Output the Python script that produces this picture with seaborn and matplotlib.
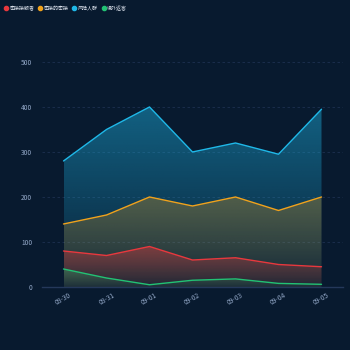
import numpy as np
import pandas as pd
import matplotlib
matplotlib.use("Agg")
import matplotlib.pyplot as plt
import matplotlib.colors as mcolors
from matplotlib.lines import Line2D
import seaborn as sns

# data
dates = ["08-30", "08-31", "09-01", "09-02", "09-03", "09-04", "09-05"]
names = ["密接接触者", "密接的密接", "风险人群", "境外返客"]
close_contact = [80, 70, 90, 60, 65, 50, 45]
secondary = [140, 160, 200, 180, 200, 170, 200]
risk_group = [280, 350, 400, 300, 320, 295, 395]
overseas = [40, 20, 5, 15, 18, 8, 6]
colors = ["#e8383d", "#f0a21c", "#1fb8e8", "#22c274"]

bg = "#081a2f"
sns.set_theme(style="dark")
plt.rcParams["font.family"] = ["Noto Sans CJK SC", "DejaVu Sans"]

series = [close_contact, secondary, risk_group, overseas]
df = pd.DataFrame({"date": dates * 4,
                   "value": sum(series, []),
                   "name": np.repeat(names, len(dates))})
df["x"] = df["date"].map({d: i for i, d in enumerate(dates)})

fig = plt.figure(figsize=(3.5, 3.5), dpi=100, facecolor=bg)
ax = fig.add_axes([0.12, 0.18, 0.86, 0.643], facecolor=bg)

x = np.arange(len(dates))
# draw order: big areas first
order = [2, 1, 0, 3]
top_alpha = {0: 0.42, 1: 0.3, 2: 0.45, 3: 0.35}
for z, k in enumerate(order):
    vals = np.array(series[k], dtype=float)
    poly = ax.fill_between(x, 0, vals, color="none", zorder=1 + z)
    rgb = mcolors.to_rgb(colors[k])
    grad = np.zeros((100, 1, 4))
    grad[..., :3] = rgb
    grad[..., 3] = np.linspace(0.05, top_alpha[k], 100)[:, None]
    im = ax.imshow(grad, aspect="auto", origin="lower",
                   extent=[x[0], x[-1], 0, vals.max()], zorder=1 + z)
    im.set_clip_path(poly.get_paths()[0], transform=ax.transData)
    sns.lineplot(data=df[df["name"] == names[k]], x="x", y="value", ax=ax,
                 color=colors[k], lw=1, zorder=10 + z, legend=False)

ax.set_xlim(-0.5, len(dates) - 0.5)
ax.set_ylim(0, 500)
ax.set_xticks(x)
ax.set_xticklabels(dates, rotation=30, fontsize=4.8, color="#93a8c8")
ax.set_yticks(range(0, 501, 100))
ax.tick_params(axis="y", labelsize=4.8, colors="#93a8c8", length=0, pad=7)
ax.tick_params(axis="x", length=0, pad=3)
ax.set_xlabel("")
ax.set_ylabel("")
ax.grid(axis="y", color="#1d3050", ls=(0, (3, 3)), lw=0.6)
ax.grid(axis="x", visible=False)
for s in ["top", "right", "left"]:
    ax.spines[s].set_visible(False)
ax.spines["bottom"].set_color("#24385a")
ax.spines["bottom"].set_linewidth(1)

handles = [Line2D([], [], ls="none", marker="o", ms=3, color=c) for c in colors]
fig.legend(handles, names, loc="upper left", bbox_to_anchor=(-0.005, 0.997),
           ncol=4, frameon=False, fontsize=3.6, labelcolor="#dde3ee",
           handletextpad=0.15, columnspacing=0.5, handlelength=1.2)

fig.savefig("out.png", dpi=100, facecolor=bg)
